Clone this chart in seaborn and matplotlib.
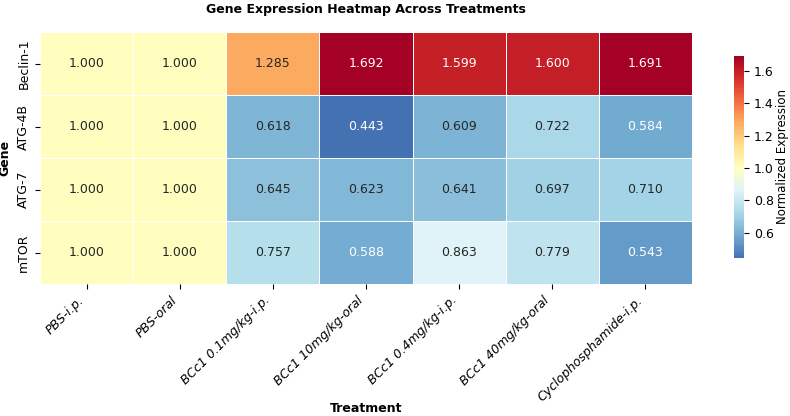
import numpy as np
import pandas as pd
import matplotlib
matplotlib.use("Agg")
import matplotlib.pyplot as plt
import seaborn as sns

# data
genes = ["Beclin-1", "ATG-4B", "ATG-7", "mTOR"]
treatments = ["PBS-i.p.", "PBS-oral", "BCc1 0.1mg/kg-i.p.", "BCc1 10mg/kg-oral",
              "BCc1 0.4mg/kg-i.p.", "BCc1 40mg/kg-oral", "Cyclophosphamide-i.p."]
beclin1 = [1.000, 1.000, 1.285, 1.692, 1.599, 1.600, 1.691]
atg4b = [1.000, 1.000, 0.618, 0.443, 0.609, 0.722, 0.584]
atg7 = [1.000, 1.000, 0.645, 0.623, 0.641, 0.697, 0.710]
mtor = [1.000, 1.000, 0.757, 0.588, 0.863, 0.779, 0.543]

df = pd.DataFrame([beclin1, atg4b, atg7, mtor], index=genes, columns=treatments)

fig = plt.figure(figsize=(7.9, 4.16), dpi=100)
ax = fig.add_axes([40 / 790, 1 - 284 / 416, 652 / 790, 252 / 416])
cax = fig.add_axes([734 / 790, 1 - 258 / 416, 10 / 790, 202 / 416])

sns.heatmap(df, annot=True, fmt=".3f", cmap="RdYlBu_r", center=1.0,
            linewidths=0.5, linecolor="white", ax=ax, cbar_ax=cax,
            annot_kws={"size": 9})

ax.set_title("Gene Expression Heatmap Across Treatments", fontsize=9,
             fontweight="bold", pad=14)
ax.set_xlabel("Treatment", fontsize=9, fontweight="bold")
ax.xaxis.set_label_coords(0.5, -0.468)
ax.set_ylabel("Gene", fontsize=9, fontweight="bold")
ax.set_xticklabels(ax.get_xticklabels(), rotation=45, ha="right",
                   fontstyle="italic", fontsize=9)
ax.set_yticklabels(ax.get_yticklabels(), rotation=90, va="center", fontsize=9)
cax.tick_params(labelsize=9)
cax.set_ylabel("Normalized Expression", fontsize=8.5, labelpad=2)

fig.savefig("out.png", dpi=100)
